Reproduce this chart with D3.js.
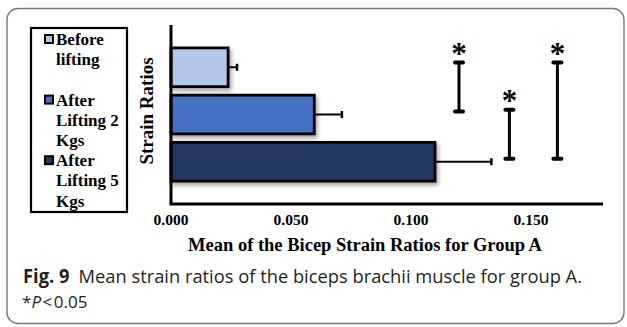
<!DOCTYPE html>
<html lang="en">
<head>
<meta charset="utf-8">
<title>Mean strain ratios, group A</title>
<style>
  body { margin: 0; background: #fff; }
  text.caption { font-family: "Open Sans", "Noto Sans", sans-serif; fill: #231f20; }
</style>
</head>
<body>
<div class="graph"></div>
<script src="https://cdn.jsdelivr.net/npm/d3@7"></script>
<script>
// data
var categories = ["Before lifting", "After Lifting 2 Kgs", "After Lifting 5 Kgs"];
var means = [0.0238, 0.0597, 0.110];
var errors = [0.0037, 0.0115, 0.0235];
var colors = ["#b4c7e7", "#4472c4", "#203864"];
var xTicks = [0, 0.05, 0.10, 0.15];
// significance brackets: [from category, to category, x position]
var sigFrom = [0, 1, 0];
var sigTo = [1, 2, 2];
var sigX = [0.120, 0.141, 0.161];
var legendLines = [["Before", "lifting"], ["After", "Lifting 2", "Kgs"], ["After", "Lifting 5", "Kgs"]];
var legendStart = [0, 3, 6];

var serif = "'Liberation Serif', 'Times New Roman', Times, 'DejaVu Serif', serif";

var W = 627, H = 327;
var svg = d3.select(".graph").append("svg")
  .attr("width", W).attr("height", H);

var defs = svg.append("defs");
var f = defs.append("filter").attr("id", "shadow")
  .attr("x", "-10%").attr("y", "-20%").attr("width", "130%").attr("height", "160%");
f.append("feDropShadow").attr("dx", 2).attr("dy", 3)
  .attr("stdDeviation", 2).attr("flood-color", "#000").attr("flood-opacity", 0.35);

// outer frame
svg.append("rect")
  .attr("x", 7).attr("y", 8.5).attr("width", 617).attr("height", 315)
  .attr("rx", 11).attr("fill", "none")
  .attr("stroke", "#7a7a7a").attr("stroke-width", 1.4);

var x = d3.scaleLinear().domain([0, 0.18]).range([171, 603]);
var y = d3.scaleBand().domain(d3.range(categories.length))
  .range([25, 204]).paddingInner(0.18).paddingOuter(0.485);

// bars
svg.append("g").selectAll("rect").data(means).join("rect")
  .attr("x", x(0))
  .attr("y", function(d, i) { return y(i); })
  .attr("width", function(d) { return x(d) - x(0); })
  .attr("height", y.bandwidth())
  .attr("fill", function(d, i) { return colors[i]; })
  .attr("stroke", "#000").attr("stroke-width", 2.8)
  .attr("filter", "url(#shadow)");

// error bars
var eb = svg.append("g").attr("stroke", "#000");
means.forEach(function(m, i) {
  var cy = y(i) + y.bandwidth() / 2;
  eb.append("line").attr("x1", x(m)).attr("x2", x(m + errors[i]))
    .attr("y1", cy).attr("y2", cy).attr("stroke-width", 2);
  eb.append("line").attr("x1", x(m + errors[i])).attr("x2", x(m + errors[i]))
    .attr("y1", cy - 3.5).attr("y2", cy + 3.5).attr("stroke-width", 2.5);
});

// axes
svg.append("line").attr("x1", x(0)).attr("x2", x(0))
  .attr("y1", 25).attr("y2", 204).attr("stroke", "#000").attr("stroke-width", 3);
svg.append("line").attr("x1", x(0) - 1.5).attr("x2", x(0.18))
  .attr("y1", 204).attr("y2", 204).attr("stroke", "#000").attr("stroke-width", 3);

svg.append("g").selectAll("text").data(xTicks).join("text")
  .attr("font-family", serif).attr("font-weight", "bold")
  .attr("x", function(d) { return x(d); })
  .attr("y", 225)
  .attr("text-anchor", "middle")
  .attr("font-size", 15.5)
  .text(d3.format(".3f"));

svg.append("text")
  .attr("font-family", serif).attr("font-weight", "bold")
  .attr("x", 365).attr("y", 251)
  .attr("text-anchor", "middle").attr("font-size", 18.5)
  .text("Mean of the Bicep Strain Ratios for Group A");

svg.append("text")
  .attr("font-family", serif).attr("font-weight", "bold")
  .attr("transform", "translate(153,111) rotate(-90)")
  .attr("text-anchor", "middle").attr("font-size", 19)
  .text("Strain Ratios");

// significance brackets
var sg = svg.append("g");
sigX.forEach(function(sx, i) {
  var y1 = y(sigFrom[i]) + y.bandwidth() * 0.38;
  var y2 = y(sigTo[i]) + y.bandwidth() * 0.42;
  var cx = x(sx);
  sg.append("line").attr("x1", cx).attr("x2", cx).attr("y1", y1).attr("y2", y2)
    .attr("stroke", "#000").attr("stroke-width", 3);
  [y1, y2].forEach(function(yy) {
    sg.append("line").attr("x1", cx - 4).attr("x2", cx + 4).attr("y1", yy).attr("y2", yy)
      .attr("stroke", "#000").attr("stroke-width", 4).attr("stroke-linecap", "round");
  });
  sg.append("text")
    .attr("font-family", serif).attr("font-weight", "bold")
    .attr("x", cx).attr("y", y1 + 1)
    .attr("text-anchor", "middle").attr("font-size", 31)
    .text("*");
});

// legend
svg.append("rect").attr("x", 31).attr("y", 28).attr("width", 96).attr("height", 184)
  .attr("fill", "#fff").attr("stroke", "#000").attr("stroke-width", 2.2);
var lg = svg.append("g");
legendLines.forEach(function(lines, i) {
  var base = 45 + legendStart[i] * 20.2;
  lg.append("rect").attr("x", 45).attr("y", base - 10).attr("width", 8).attr("height", 8)
    .attr("fill", colors[i]).attr("stroke", "#000").attr("stroke-width", 2);
  lines.forEach(function(t, j) {
    lg.append("text")
      .attr("font-family", serif).attr("font-weight", "bold")
      .attr("x", 56).attr("y", base + j * 20.2)
      .attr("font-size", 17)
      .text(t);
  });
});

// caption
var cap = svg.append("text").attr("class", "caption")
  .attr("x", 23).attr("y", 283).attr("font-size", 19);
cap.append("tspan").attr("font-weight", "bold").text("Fig. 9");
cap.append("tspan").text("\u2002Mean strain ratios of the biceps brachii muscle for group A.");
cap.attr("textLength", 559).attr("lengthAdjust", "spacingAndGlyphs");

var cap2 = svg.append("text").attr("class", "caption")
  .attr("x", 22).attr("y", 308).attr("font-size", 17);
cap2.append("tspan").text("*");
cap2.append("tspan").attr("font-style", "italic").text("P");
cap2.append("tspan").attr("dx", 1.5).text("<");
cap2.append("tspan").attr("dx", 1.5).text("0.05");
</script>
</body>
</html>
